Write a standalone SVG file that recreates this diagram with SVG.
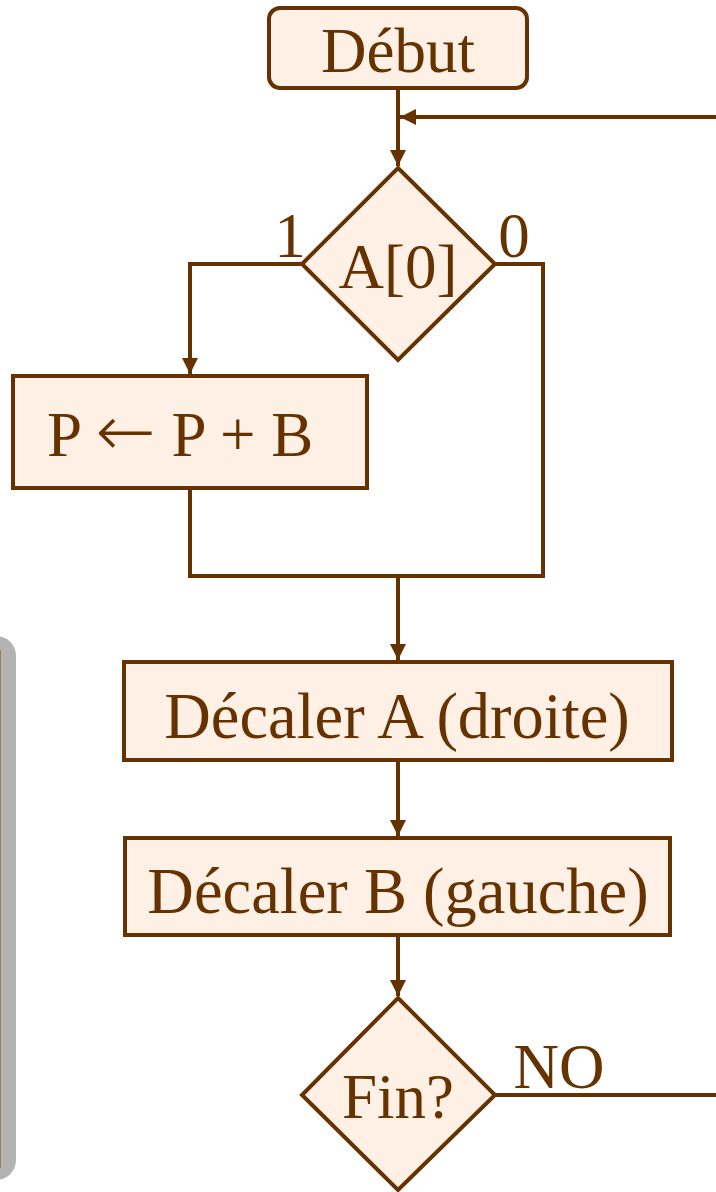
<svg xmlns="http://www.w3.org/2000/svg" width="716" height="1192" viewBox="0 0 716 1192">
<defs>
<marker id="ah" viewBox="0 0 10 10" refX="10" refY="5" markerWidth="18" markerHeight="16" markerUnits="userSpaceOnUse" orient="auto">
<path d="M0,0 L10,5 L0,10 Z" fill="#663300"/>
</marker>
</defs>
<style>
.n{fill:#fff0e6;stroke:#663300;stroke-width:4}
.t{font-family:"Liberation Serif","Times New Roman",serif;font-size:63px;fill:#663300;text-anchor:middle}
.w{font-size:64.5px}
.c{fill:none;stroke:#663300;stroke-width:4}
</style>
<rect width="716" height="1192" fill="#ffffff"/>
<g id="panel">
<rect x="-40" y="636" width="56" height="544" rx="20" fill="#b3b3b3"/>
<line x1="0.5" y1="650" x2="0.5" y2="1168" stroke="#9a7b5a" stroke-width="1"/>
</g>
<g id="connectors">
<path class="c" d="M398,88 V166" marker-end="url(#ah)"/>
<path class="c" d="M716,117 H400" marker-end="url(#ah)"/>
<path class="c" d="M302,264 H190 V374" marker-end="url(#ah)"/>
<path class="c" d="M495,264 H543 V576 H190 V488"/>
<path class="c" d="M398,576 V660" marker-end="url(#ah)"/>
<path class="c" d="M398,760 V836" marker-end="url(#ah)"/>
<path class="c" d="M398,935 V996" marker-end="url(#ah)"/>
<path class="c" d="M495,1095 H716"/>
</g>
<g id="debut">
<rect class="n" x="269" y="8" width="258" height="80" rx="11"/>
<text class="t" x="398" y="72">Début</text>
</g>
<g id="test-a0">
<polygon class="n" points="398,168 495,264 398,360 302,264"/>
<text class="t" x="398" y="288">A[0]</text>
<text class="t" x="290" y="257">1</text>
<text class="t" x="514" y="257">0</text>
</g>
<g id="add">
<rect class="n" x="13" y="376" width="354" height="112"/>
<text class="t" x="47" y="456" style="text-anchor:start">P <tspan style="font-family:'DejaVu Sans',sans-serif;font-size:72px;font-weight:300">←</tspan> P + B</text>
</g>
<g id="shift-a">
<rect class="n" x="124" y="662" width="548" height="98"/>
<text class="t w" x="397" y="738">Décaler A (droite)</text>
</g>
<g id="shift-b">
<rect class="n" x="125" y="838" width="545" height="97"/>
<text class="t w" x="398" y="913">Décaler B (gauche)</text>
</g>
<g id="fin">
<polygon class="n" points="398,998 495,1095 398,1190 302,1095"/>
<text class="t" x="398" y="1118">Fin?</text>
<text class="t" x="559" y="1088">NO</text>
</g>
</svg>
